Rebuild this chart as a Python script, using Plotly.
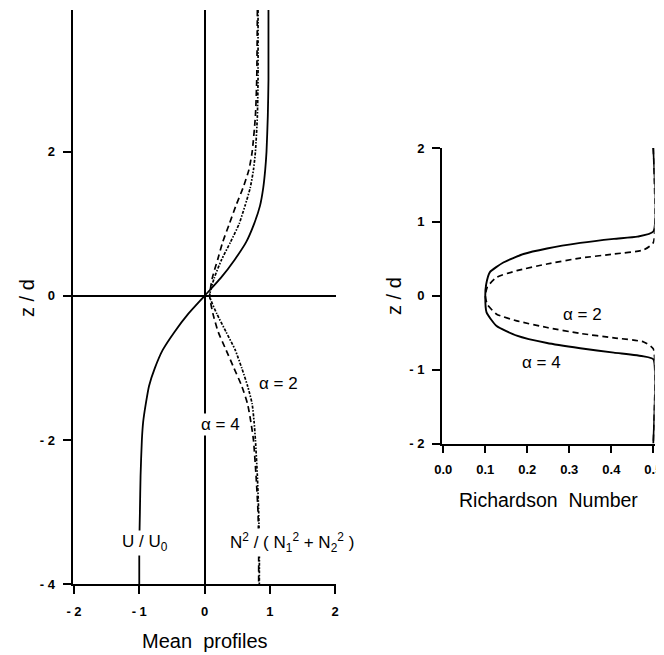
import plotly.graph_objects as go

# ---------------- Left panel: mean profiles ----------------
z_u = [3.97, 3.0, 2.5, 2.0, 1.75, 1.5, 1.25, 1.0, 0.75, 0.5, 0.25, 0.0,
       -0.25, -0.5, -0.75, -1.0, -1.25, -1.5, -1.75, -2.0, -2.5, -3.0, -3.5, -4.0]
u_prof = [0.98, 0.98, 0.97, 0.95, 0.93, 0.90, 0.85, 0.76, 0.64, 0.46, 0.25, 0.0,
          -0.25, -0.46, -0.64, -0.76, -0.85, -0.90, -0.94, -0.96, -0.98, -0.99, -1.0, -1.0]

z_n = [3.97, 3.0, 2.5, 2.0, 1.75, 1.5, 1.25, 1.0, 0.75, 0.5, 0.25, 0.0,
       -0.25, -0.5, -0.75, -1.0, -1.25, -1.5, -1.75, -2.0, -2.5, -3.0, -3.5, -4.0]
n2_alpha4 = [0.81, 0.80, 0.78, 0.73, 0.68, 0.59, 0.48, 0.38, 0.28, 0.20, 0.12, 0.08,
             0.13, 0.21, 0.33, 0.45, 0.57, 0.66, 0.71, 0.75, 0.79, 0.82, 0.83, 0.83]
n2_alpha2 = [0.82, 0.82, 0.81, 0.78, 0.75, 0.70, 0.62, 0.53, 0.40, 0.26, 0.15, 0.08,
             0.19, 0.33, 0.47, 0.57, 0.66, 0.73, 0.76, 0.78, 0.81, 0.83, 0.84, 0.84]

# ---------------- Right panel: Richardson number ----------------
z_ri4 = [2.0, 0.87, 0.80, 0.77, 0.715, 0.64, 0.565, 0.45, 0.32, 0.15, 0.0,
         -0.225, -0.41, -0.54, -0.64, -0.71, -0.77, -0.82, -0.86, -2.0]
ri_alpha4 = [0.5, 0.5, 0.462, 0.406, 0.326, 0.247, 0.191, 0.143, 0.111, 0.102, 0.10,
             0.103, 0.127, 0.175, 0.247, 0.326, 0.406, 0.477, 0.5, 0.5]
z_ri2 = [2.0, 0.72, 0.62, 0.565, 0.51, 0.43, 0.34, 0.25, 0.12, 0.0,
         -0.12, -0.25, -0.34, -0.43, -0.51, -0.57, -0.625, -0.72, -2.0]
ri_alpha2 = [0.5, 0.5, 0.477, 0.406, 0.326, 0.247, 0.175, 0.127, 0.105, 0.10,
             0.105, 0.127, 0.175, 0.247, 0.326, 0.406, 0.477, 0.5, 0.5]

left_xticks = [-2, -1, 0, 1, 2]
left_xtext = ["- 2", "- 1", "0", "1", "2"]
left_yticks = [2, 0, -2, -4]
left_ytext = ["2", "0", "- 2", "- 4"]
right_xticks = [0.0, 0.1, 0.2, 0.3, 0.4, 0.5]
right_xtext = ["0.0", "0.1", "0.2", "0.3", "0.4", "0.5"]
right_yticks = [2, 1, 0, -1, -2]
right_ytext = ["2", "1", "0", "- 1", "- 2"]

FONT = "Liberation Sans, Arial, Helvetica, sans-serif"
# the page body has an 8px margin, so the figure is 8px smaller than the window
OFF = 8
W, H = 664 - OFF, 655 - OFF


def px(x):
    return (x - OFF) / W


def py(y):
    return 1 - (y - OFF) / H


fig = go.Figure()
fig.add_trace(go.Scatter(x=u_prof, y=z_u, mode="lines", xaxis="x", yaxis="y",
                         line=dict(color="black", width=1.8, shape="spline", smoothing=0.6)))
fig.add_trace(go.Scatter(x=n2_alpha4, y=z_n, mode="lines", xaxis="x", yaxis="y",
                         line=dict(color="black", width=1.7, dash="6px,4px", shape="spline", smoothing=0.6)))
fig.add_trace(go.Scatter(x=n2_alpha2, y=z_n, mode="lines", xaxis="x", yaxis="y",
                         line=dict(color="black", width=1.7, dash="3px,1.5px,1.5px,1.5px",
                                   shape="spline", smoothing=0.6)))
fig.add_trace(go.Scatter(x=ri_alpha4, y=z_ri4, mode="lines", xaxis="x2", yaxis="y2",
                         line=dict(color="black", width=1.9, shape="spline", smoothing=0.5)))
fig.add_trace(go.Scatter(x=ri_alpha2, y=z_ri2, mode="lines", xaxis="x2", yaxis="y2",
                         line=dict(color="black", width=1.7, dash="6px,4px", shape="spline", smoothing=0.5)))

tickfont = dict(family=FONT, size=13, color="black", weight="bold")
axis_common = dict(showgrid=False, showline=True, linecolor="black", linewidth=1.9,
                   ticks="outside", ticklen=8, tickwidth=1.6, tickcolor="black",
                   tickfont=tickfont, mirror=False, automargin=False)

fig.update_layout(
    width=W, height=H, margin=dict(l=0, r=0, t=0, b=0),
    paper_bgcolor="white", plot_bgcolor="white", showlegend=False,
    xaxis=dict(domain=[px(72.5), px(336)], range=[-2.023, 2.015], anchor="y",
               tickvals=left_xticks, ticktext=left_xtext, ticklabelstandoff=6,
               zeroline=True, zerolinecolor="black", zerolinewidth=1.6, **axis_common),
    yaxis=dict(domain=[py(584), py(10)], range=[-4, 3.97], anchor="x",
               tickvals=left_yticks, ticktext=left_ytext, ticklabelstandoff=5,
               zeroline=True, zerolinecolor="black", zerolinewidth=1.6, **axis_common),
    xaxis2=dict(domain=[px(442), px(654.6)], range=[-0.003, 0.503], anchor="y2",
                tickvals=right_xticks, ticktext=right_xtext, ticklabelstandoff=5,
                zeroline=False, **axis_common),
    yaxis2=dict(domain=[py(443.5), py(148)], range=[-2, 2], anchor="x2",
                tickvals=right_yticks, ticktext=right_ytext, ticklabelstandoff=5,
                zeroline=False, **axis_common),
)

lab = dict(family=FONT, size=17, color="black")
title_font = dict(family=FONT, size=20, color="black")
annotations = [
    # axis titles
    dict(text="Mean  profiles", x=px(205), y=py(641), xref="paper", yref="paper",
         showarrow=False, font=title_font, xanchor="center", yanchor="middle"),
    dict(text="z / d", x=px(27), y=py(298), xref="paper", yref="paper", textangle=-90,
         showarrow=False, font=title_font, xanchor="center", yanchor="middle"),
    dict(text="Richardson  Number", x=px(548), y=py(500), xref="paper", yref="paper",
         showarrow=False, font=dict(family=FONT, size=19.5, color="black"),
         xanchor="center", yanchor="middle"),
    dict(text="z / d", x=px(394), y=py(296), xref="paper", yref="paper", textangle=-90,
         showarrow=False, font=title_font, xanchor="center", yanchor="middle"),
    # left panel labels
    dict(text="α = 2", x=0.80, y=-1.21, xref="x", yref="y", showarrow=False,
         font=lab, xanchor="left", yanchor="middle"),
    dict(text="α = 4", x=0.24, y=-1.78, xref="x", yref="y", showarrow=False,
         font=lab, xanchor="center", yanchor="middle", bgcolor="white"),
    dict(text="U / U<sub>0</sub>", x=-0.91, y=-3.43, xref="x", yref="y", showarrow=False,
         font=lab, xanchor="center", yanchor="middle", bgcolor="white"),
    dict(text="N<sup>2</sup> / ( N<sub>1</sub><sup>2</sup> + N<sub>2</sub><sup>2</sup> )",
         x=0.36, y=-3.43, xref="x", yref="y", showarrow=False,
         font=lab, xanchor="left", yanchor="middle", bgcolor="white"),
    # right panel labels
    dict(text="α = 2", x=0.332, y=-0.25, xref="x2", yref="y2", showarrow=False,
         font=lab, xanchor="center", yanchor="middle"),
    dict(text="α = 4", x=0.234, y=-0.90, xref="x2", yref="y2", showarrow=False,
         font=lab, xanchor="center", yanchor="middle"),
]
fig.update_layout(annotations=annotations)

fig.write_html("out.html")
